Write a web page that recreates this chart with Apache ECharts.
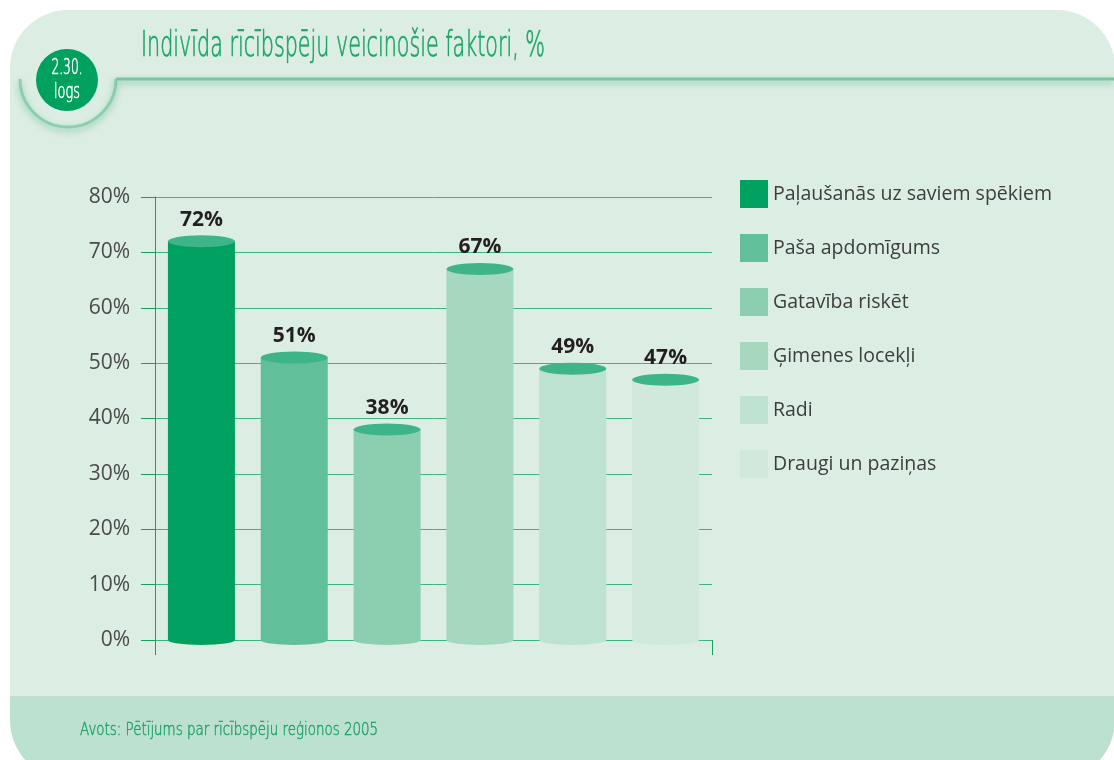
<!DOCTYPE html>
<html>
<head>
<meta charset="utf-8">
<script src="https://cdn.jsdelivr.net/npm/echarts@6/dist/echarts.min.js"></script>
<style>
html, body { margin: 0; padding: 0; background: #ffffff; }
#chart { width: 1114px; height: 760px; }
</style>
</head>
<body>
<div id="chart"></div>
<script>
// dati
var categories = ["Paļaušanās uz saviem spēkiem", "Paša apdomīgums", "Gatavība riskēt", "Ģimenes locekļi", "Radi", "Draugi un paziņas"];
var values = [72, 51, 38, 67, 49, 47];
var yTicks = [0, 80, 10]; // min, max, solis

var colors = ["#00a160", "#61bf99", "#8ccfb0", "#a5d8bf", "#bde2d1", "#d0e9dc"];
var thin = "'DejaVu Sans', sans-serif";
var green = "#1ca565";
var gridGreen = "#3db57f";

// plāns fonts, saspiests līdz vajadzīgajam platumam
var ctx = document.createElement("canvas").getContext("2d");
function thinFont(size) {
	return "200 " + size + "px " + thin;
}
function fitScale(text, size, width) {
	ctx.font = thinFont(size);
	return width / ctx.measureText(text).width;
}

var titleText = "Indivīda rīcībspēju veicinošie faktori, %";
var sourceText = "Avots: Pētījums par rīcībspēju reģionos 2005";

var myChart = echarts.init(document.getElementById("chart"));

var barSeries = categories.map(function (name, i) {
	return {
		name: name,
		type: "bar",
		stack: "all",
		barWidth: 67,
		itemStyle: {color: colors[i]},
		data: values.map(function (v, j) { return j === i ? v : "-"; })
	};
});

var options = {
	animation: false,
	backgroundColor: "#ffffff",
	textStyle: {fontFamily: "'Open Sans', sans-serif"},
	graphic: [
		{type: "rect", z: -10, shape: {x: 10, y: 10, width: 1105, height: 686, r: [58, 58, 0, 0]}, style: {fill: "#dcede3"}},
		{type: "rect", z: -10, shape: {x: 10, y: 696, width: 1105, height: 84, r: [0, 0, 60, 60]}, style: {fill: "#bde1d0"}},
		{type: "arc", z: -5, shape: {cx: 68, cy: 79, r: 48, startAngle: 0, endAngle: Math.PI, clockwise: true},
			style: {stroke: "#8ccfae", lineWidth: 3, fill: null, shadowBlur: 6, shadowOffsetY: 3, shadowColor: "rgba(40,160,100,0.45)"}},
		{type: "line", z: -5, shape: {x1: 116, y1: 79, x2: 1114, y2: 79},
			style: {stroke: "#7cc4a0", lineWidth: 3, shadowBlur: 6, shadowOffsetY: 3, shadowColor: "rgba(40,160,100,0.45)"}},
		{type: "circle", z: -4, shape: {cx: 67, cy: 80, r: 31}, style: {fill: "#00a05e"}},
		{type: "text", z: -3, x: 67, y: 69, scaleX: fitScale("2.30.", 21, 31),
			style: {text: "2.30.", font: thinFont(21), fill: "#ffffff", stroke: "#ffffff", lineWidth: 0.6, textAlign: "center", textVerticalAlign: "middle"}},
		{type: "text", z: -3, x: 67, y: 93, scaleX: fitScale("logs", 21, 26),
			style: {text: "logs", font: thinFont(21), fill: "#ffffff", stroke: "#ffffff", lineWidth: 0.6, textAlign: "center", textVerticalAlign: "middle"}},
		{type: "text", z: -3, x: 141, y: 47, scaleX: fitScale(titleText, 35, 404),
			style: {text: titleText, font: thinFont(35), fill: green, stroke: green, lineWidth: 0.7, textAlign: "left", textVerticalAlign: "middle"}},
		{type: "text", z: -3, x: 80, y: 731, scaleX: fitScale(sourceText, 17, 298),
			style: {text: sourceText, font: thinFont(17), fill: "#22a468", stroke: "#22a468", lineWidth: 0.5, textAlign: "left", textVerticalAlign: "middle"}}
	],
	legend: {
		data: categories,
		orient: "vertical",
		left: 740,
		top: 180,
		padding: 0,
		icon: "rect",
		itemWidth: 28,
		itemHeight: 28,
		itemGap: 26,
		textStyle: {fontSize: 19.5, color: "#3d3d3d", fontFamily: "'Open Sans', sans-serif"}
	},
	grid: {left: 155, right: 402, top: 197, bottom: 120, containLabel: false},
	xAxis: {
		type: "category",
		data: categories,
		axisLine: {show: true, lineStyle: {color: gridGreen, width: 1}},
		axisTick: {
			show: true,
			length: 15,
			interval: function (i) { return i === 0; },
			lineStyle: {color: "#15a060"}
		},
		axisLabel: {show: false}
	},
	yAxis: {
		type: "value",
		min: yTicks[0],
		max: yTicks[1],
		interval: yTicks[2],
		axisLine: {show: true, lineStyle: {color: "#15a060"}},
		axisTick: {show: true, length: 14, lineStyle: {color: "#15a060"}},
		axisLabel: {formatter: "{value}%", margin: 25, fontSize: 21, color: "#4a4a4a"},
		splitLine: {show: true, lineStyle: {color: gridGreen, width: 1}}
	},
	series: barSeries.concat([
		{
			type: "pictorialBar",
			symbol: "circle",
			symbolSize: [67, 10],
			symbolOffset: [0, "50%"],
			z: 1,
			data: values.map(function (v, i) { return {value: v, itemStyle: {color: colors[i]}}; })
		},
		{
			type: "pictorialBar",
			symbol: "circle",
			symbolSize: [67, 12],
			symbolPosition: "end",
			symbolOffset: [0, "-50%"],
			z: 3,
			itemStyle: {color: "#3db589"},
			label: {
				show: true,
				position: "top",
				distance: 5,
				formatter: "{c}%",
				fontSize: 21,
				fontWeight: "bold",
				color: "#231f20",
				fontFamily: "'Open Sans', sans-serif"
			},
			data: values
		}
	])
};

myChart.setOption(options);
</script>
</body>
</html>
